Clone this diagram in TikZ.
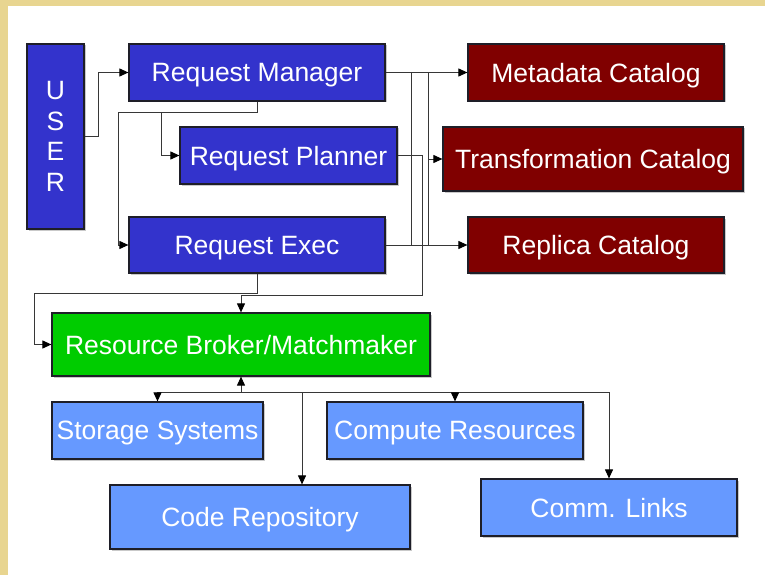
\documentclass[tikz,border=0pt]{standalone}
\usepackage{fontspec}
\setmainfont{Liberation Sans}
\usetikzlibrary{arrows.meta,shadows}

\definecolor{frame}{RGB}{232,213,144}
\definecolor{reqblue}{RGB}{51,51,204}
\definecolor{catred}{RGB}{128,0,0}
\definecolor{brokergreen}{RGB}{0,204,0}
\definecolor{resblue}{RGB}{102,153,255}
\definecolor{wire}{RGB}{55,55,55}

\tikzset{
  box/.style={draw={rgb,255:red,30;green,30;blue,40}, line width=1.2pt,
    text=white, inner sep=0pt, anchor=center, text depth=0pt,
    font=\fontsize{26.5}{30}\selectfont,
    drop shadow={shadow xshift=1.5pt, shadow yshift=-1.5pt, fill=black!35, opacity=0.6}},
  req/.style={box, fill=reqblue},
  cat/.style={box, fill=catred},
  res/.style={box, fill=resblue},
  wireline/.style={draw=wire, line width=1pt},
  arr/.style={wireline, -{Triangle[length=9pt,width=8pt,color=black]}},
}

\begin{document}
\begin{tikzpicture}[x=1pt,y=-1pt]
  % page frame
  \fill[frame] (0,0) rectangle (765,575);
  \fill[white] (8,6) rectangle (765,575);
  \useasboundingbox (0,0) rectangle (765,575);

  % request side
  \node[req, minimum width=57pt, minimum height=185pt, align=center,
        font=\fontsize{26.5}{30.5}\selectfont] (user) at (55.5,136.5) {U\\S\\E\\R};
  \node[req, minimum width=256pt, minimum height=57pt] (rm) at (257,72.5) {Request Manager};
  \node[req, minimum width=217pt, minimum height=57pt] (rp) at (288.5,155.5) {Request Planner};
  \node[req, minimum width=256pt, minimum height=56pt] (re) at (257,245) {Request Exec};

  % catalogs
  \node[cat, minimum width=256pt, minimum height=57pt] (mc) at (596,72.5) {Metadata Catalog};
  \node[cat, minimum width=300pt, minimum height=64pt] (tc) at (593,159) {Transformation Catalog};
  \node[cat, minimum width=256pt, minimum height=56pt] (rc) at (596,245) {Replica Catalog};

  % broker and resources
  \node[box, fill=brokergreen, minimum width=378pt, minimum height=63pt] (rb) at (241,344.5) {Resource Broker/Matchmaker};
  \node[res, minimum width=211pt, minimum height=57pt] (ss) at (157.5,430.5) {Storage Systems};
  \node[res, minimum width=256pt, minimum height=57pt] (cr) at (455,430.5) {Compute Resources};
  \node[res, minimum width=300pt, minimum height=64pt] (code) at (260,517) {Code Repository};
  \node[res, minimum width=256pt, minimum height=57pt] (cl) at (609,507.5) {Comm. Links};

  % waypoints
  \coordinate (split) at (118,113);
  \coordinate (tap) at (161,113);
  \coordinate (busA) at (411,72.5);
  \coordinate (busB) at (428,72.5);
  \coordinate (tcin) at (428,159);
  \coordinate (planfeed) at (422,295);
  \coordinate (execfeed) at (34,293);
  \coordinate (hub) at (241,392);
  \coordinate (coderun) at (302,392);

  % user and request manager
  \draw[arr] (user.east) -- ++(14,0) |- (rm.west);
  \draw[arr] (rm.south) |- (split) |- (re.west);
  \draw[arr] (tap) |- (rp.west);

  % request side to catalogs
  \draw[arr] (rm.east) -- (mc.west);
  \draw[arr] (re.east) -- (rc.west);
  \draw[wireline] (busA) -- (busA |- re.east);
  \draw[wireline] (busB) -- (busB |- re.east);
  \draw[arr] (tcin) -- (tc.west);

  % feeds into the broker
  \draw[arr] (rp.east) -| (planfeed) -| (rb.north);
  \draw[arr] (re.south) |- (execfeed) |- (rb.west);

  % broker to resources
  \draw[arr] (hub) -- (rb.south);
  \draw[wireline] (ss.north |- hub) -- (cl.north |- hub);
  \draw[arr] (ss.north |- hub) -- (ss.north);
  \draw[arr] (cr.north |- hub) -- (cr.north);
  \draw[arr] (coderun) -- (coderun |- code.north);
  \draw[arr] (cl.north |- hub) -- (cl.north);
\end{tikzpicture}
\end{document}
